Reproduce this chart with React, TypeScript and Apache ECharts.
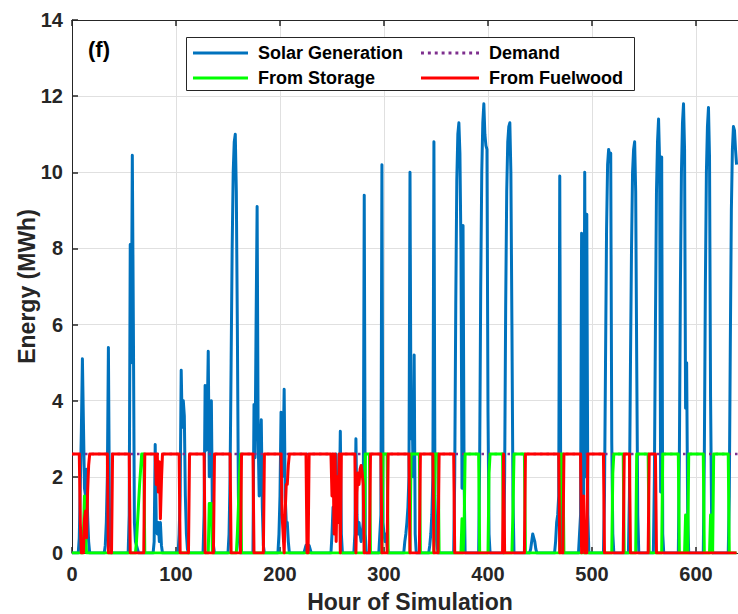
import React, { useEffect, useRef } from 'react';
import * as echarts from 'echarts';

// Demand level (MWh), constant over the run
const D = 2.6;

// Hourly solar generation (MWh), one row per simulated day
const solar: number[] = [
  0,0,0,0,0,0,0,0.4,1.8,3.2,5.1,3.4,1.7,1.5,2.2,1.0,0.3,0,0,0,0,0,0,0,
  0,0,0,0,0,0,0,0,0.2,0.8,2.0,5.4,1.2,0.2,0,0,0,0,0,0,0,0,0,0,
  0,0,0,0,0,0,0,1.0,8.1,5.0,10.45,6.0,0.8,0.3,0.2,0.1,0,0,0,0,0,0,0,0,
  0,0,0,0,0,0,0,0.3,2.85,0.8,0.5,0.8,0.3,0.8,0.2,0,0,0,0,0,0,0,0,0,
  0,0,0,0,0,0,0,0.5,1.5,4.8,3.3,4.0,3.6,1.5,0.5,0.1,0,0,0,0,0,0,0,0,
  0,0,0,0,0,0,0,1.0,4.4,2.7,3.5,5.3,2.0,3.0,4.0,1.0,0.2,0,0,0,0,0,0,0,
  0,0,0,0,0,0,0,0.5,2.0,5.0,8.0,10.0,10.8,11.0,9.5,5.9,1.5,0.3,0,0,0,0,0,0,
  0,0,0,0,0,0,0,3.9,2.5,6.0,9.1,3.0,1.5,2.8,3.5,1.2,0.2,0,0,0,0,0,0,0,
  0,0,0,0,0,0,0,0.5,1.5,3.7,2.0,2.5,4.3,1.5,0.8,0.8,0.3,0,0,0,0,0,0,0,
  0,0,0,0,0,0,0,0,0.1,0.2,0.1,0.1,0.2,0.1,0,0,0,0,0,0,0,0,0,0,
  0,0,0,0,0,0,0,0,0,0,0.5,1.2,0.8,1.5,2.6,1.0,2.0,1.2,3.2,0.5,0,0,0,0,
  0,0,0,0,0,0,0,0,0.5,3.0,1.0,0.5,0.8,0.5,0.3,0.5,0.8,9.4,0.5,0,0,0,0,0,
  0,0,0,0,0,0,0,0,0.5,1.0,10.2,0.8,0.5,0.3,0.5,0.2,0,0,0,0,0,0,0,0,
  0,0,0,0,0,0,0,0,0.3,0.5,0.8,1.2,2.0,10.0,3.0,4.0,2.0,5.2,0.5,0,0,0,0,0,
  0,0,0,0,0,0,0,0,0.2,0.5,1.0,2.0,10.8,1.5,0.5,0.2,0,0,0,0,0,0,0,0,
  0,0,0,0,0,0,0,0,2.0,6.5,9.8,11.0,11.3,10.5,8.0,1.7,8.6,2.0,0,0,0,0,0,0,
  0,0,0,0,0,0,0,0,2.5,7.0,10.0,11.3,11.8,11.0,10.7,10.6,3.7,0.5,0,0,0,0,0,0,
  0,0,0,0,0,0,0,0,2.0,6.5,9.5,10.8,11.2,11.3,10.0,6.0,1.5,0,0,0,0,0,0,0,
  0,0,0,0,0,0,0,0,0,0.1,0.3,0.5,0.4,0.3,0.1,0,0,0,0,0,0,0,0,0,
  0,0,0,0,0,0,0,0,0,0.3,0.8,1.0,1.5,9.9,1.0,0.3,0,0,0,0,0,0,0,0,
  0,0,0,0,0,0,0,0,0.5,1.0,8.4,2.0,1.5,10.0,2.0,8.9,1.0,0,0,0,0,0,0,0,
  0,0,0,0,0,0,0,0,1.5,5.0,8.5,10.2,10.6,10.4,10.5,2.9,0.5,0,0,0,0,0,0,0,
  0,0,0,0,0,0,0,0,1.5,5.0,8.0,10.0,10.6,10.8,9.5,5.0,1.0,0,0,0,0,0,0,0,
  0,0,0,0,0,0,0,0,2.0,6.0,9.5,10.8,11.4,10.3,1.6,10.4,0.5,0,0,0,0,0,0,0,
  0,0,0,0,0,0,0,0,2.5,7.0,10.0,11.3,11.8,10.6,3.8,5.0,1.0,0,0,0,0,0,0,0,
  0,0,0,0,0,0,0,0,2.5,7.0,10.0,11.2,11.7,10.4,4.1,1.0,0,0,0,0,0,0,0,0,
  0,0,0,0,0,0,0,0,1.5,5.5,9.0,10.6,11.2,11.1,10.6,10.2,
];

// Hourly discharge from storage (MWh)
const fromStorage: number[] = [
  0,0,0,0,0,0,0,0,0,0,0,0.5,1.5,0.5,0,0,0,0,0,0,0,0,0,0,
  0,0,0,0,0,0,0,0,0,0,0,0,0,0,0,0,0,0,0,0,0,0,0,0,
  0,0,0,0,0,0,0,0,0,0,0,0,0,0,0.3,0.8,1.3,1.8,2.2,D,D,D,0,0,
  0,0,0,0,0,0,0,0,0,0,0,0,0,0,0,0,0,0,0,0,0,0,0,0,
  0,0,0,0,0,0,0,0,0,0,0,0,0,0,0,0,0,0,0,0,0,0,0,0,
  0,0,0,0,0,0,0,0,0,0,0,0,1.3,1.3,1.3,0,0,0,0,0,0,0,0,0,
  0,0,0,0,0,0,0,0,0,0,0,0,0,0,0,0.5,1.2,2.0,D,0,0,0,0,0,
  0,0,0,0,0,0,0,0,0,0,0,0,0,0,0,0,0,0,0,0,0,0,0,0,
  0,0,0,0,0,0,0,0,0,0,0,0,0,0,0,0,0,0,0,0,0,0,0,0,
  0,0,0,0,0,0,0,0,0,0,0,0,0,0,0,0,0,0,0,0,0,0,0,0,
  0,0,0,0,0,0,0,0,0,0,0,0,0,0,0,0,0,0,0,0,0,0,0,0,
  0,0,0,0,0,0,0,0,0,0,0,0,0,0,0,0,0,0,D,D,D,D,D,0,
  0,0,0,0,0,0,0,0,0,0,0,D,D,D,D,D,0,0,0,0,0,0,0,0,
  0,0,0,0,0,0,0,0,0,0,0,0,0,0,D,D,D,D,D,D,D,D,D,0,
  0,0,0,0,0,0,0,0,0,0,0,0,0,D,D,D,D,0,0,0,0,0,0,0,
  0,0,0,0,0,0,0,0,0,0,0,0,0,0,0,0.9,0,0.6,D,D,D,D,D,D,
  D,D,D,D,D,D,D,D,0,0,0,0,0,0,0,0,0,2.1,D,D,D,D,D,D,
  D,D,D,D,D,D,D,0,0,0,0,0,0,0,0,0,1.1,D,D,D,D,D,D,D,
  D,D,D,D,0,0,0,0,0,0,0,0,0,0,0,0,0,0,0,0,0,0,0,0,
  0,0,0,0,0,0,0,0,0,0,0,0,0,0,D,D,D,0,0,0,0,0,0,0,
  0,0,0,0,0,0,0,0,0,0,0,0,0,0,0,0,0,0,0,0,0,0,0,0,
  0,0,0,0,0,0,0,0,0,0,0,0,0,0,0,0,2.1,D,D,D,D,D,D,D,
  D,D,D,0,0,0,0,0,0,0,0,0,0,0,0,D,D,D,D,D,D,D,D,D,
  D,D,D,0,0,0,0,0,0,0,0,0,0,0,0,0,D,D,D,D,D,D,D,D,
  D,D,D,D,D,D,D,D,0,0,0,0,0,0,1.0,0,0,D,D,D,D,D,D,D,
  D,D,D,D,D,D,D,D,0,0,0,0,0,0,1.0,0.5,0,D,D,D,D,D,D,D,
  D,D,D,D,D,D,D,D,0,0,0,0,0,0,0,0,
];

// Hourly supply from fuelwood (MWh)
const fromFuelwood: number[] = [
  D,D,D,D,D,D,D,D,0.8,0,0,0,0.9,1.1,0.4,1.6,2.3,D,D,D,D,D,D,D,
  D,D,D,D,D,D,D,D,D,D,D,0,0,0,0,D,D,D,D,D,D,D,D,D,
  D,D,D,D,D,D,D,D,0,0,0,0,0,0,0,0,0,0,0,0,0,0,D,D,
  D,D,D,D,D,D,D,D,D,1.8,D,1.6,2.4,0.9,1.9,D,D,D,D,D,D,D,D,D,
  D,D,D,D,D,D,D,D,0,0,0,0,0,0,0,0,0,D,D,D,D,D,D,D,
  D,D,D,D,D,D,D,D,0,0,0,0,0,0,0,0,0,D,D,D,D,D,D,D,
  D,D,D,D,D,D,D,D,D,0,0,0,0,0,0,0,0,0,0,D,D,D,D,D,
  D,D,D,D,D,D,D,0,0,0,0,0,0,0,0,0,0,D,D,D,D,D,D,D,
  D,D,D,D,D,D,D,D,D,D,1.0,0.5,0,1.1,1.8,1.8,2.3,D,D,D,D,D,D,D,
  D,D,D,D,D,D,D,D,D,D,0,0,D,D,D,D,D,D,D,D,D,D,D,D,
  D,D,D,D,D,D,D,D,D,D,1.5,D,0.5,D,0.3,2.0,0.8,D,0,D,D,D,D,D,
  D,D,D,D,D,D,D,D,D,0,1.6,2.1,1.8,2.2,2.3,2.1,1.8,0,0,0,0,0,0,D,
  D,D,D,D,D,D,D,D,D,D,0,0,0,0,0,0,D,D,D,D,D,D,D,D,
  D,D,D,D,D,D,D,D,D,D,D,D,D,0,0,0,0,0,0,0,0,0,0,D,
  D,D,D,D,D,D,D,D,D,D,D,D,0,0,0,0,0,D,D,D,D,D,D,D,
  D,D,D,D,D,D,D,D,0,0,0,0,0,0,0,0,0,0,0,0,0,0,0,0,
  0,0,0,0,0,0,0,0,0,0,0,0,0,0,0,0,0,0,0,0,0,0,0,0,
  0,0,0,0,0,0,0,D,0,0,0,0,0,0,0,0,0,0,0,0,0,0,0,0,
  0,0,0,0,D,D,D,D,D,D,D,D,D,D,D,D,D,D,D,D,D,D,D,D,
  D,D,D,D,D,D,D,D,D,D,D,D,D,0,0,0,0,D,D,D,D,D,D,D,
  D,D,D,D,D,D,D,D,D,D,0,1.0,1.5,0,0.8,0,D,D,D,D,D,D,D,D,
  D,D,D,D,D,D,D,D,0,0,0,0,0,0,0,0,0,0,0,0,0,0,0,0,
  0,0,0,D,D,D,D,D,D,0,0,0,0,0,0,0,0,0,0,0,0,0,0,0,
  0,0,0,D,D,D,D,D,D,D,0,0,0,0,0,0,0,0,0,0,0,0,0,0,
  0,0,0,0,0,0,0,0,0,0,0,0,0,0,0,0,0,0,0,0,0,0,0,0,
  0,0,0,0,0,0,0,0,0,0,0,0,0,0,0,0,0,0,0,0,0,0,0,0,
  0,0,0,0,0,0,0,0,0,0,0,0,0,0,0,0,
];

// Demand line end points (hour, MWh)
const demandHours = [0, 650];
const demandValues = [D, D];

const AXIS_COLOR = '#262626';
const FONT = '"Liberation Sans", Arial, Helvetica, sans-serif';

// Legend glyphs: a solid stroke and a row of square dots
const SOLID_ICON = 'path://M0,0L55,0L55,3L0,3Z';
const DOTTED_ICON =
  'path://' +
  [0, 7, 14, 21, 28, 35, 42, 49, 56]
    .map((x) => `M${x},0h3v3h-3Z`)
    .join(' ');

const toPairs = (vals: number[]) => vals.map((v, i) => [i, v]);

export default function App() {
  const ref = useRef<HTMLDivElement>(null);

  useEffect(() => {
    if (!ref.current) return;
    const chart = echarts.init(ref.current, undefined, { renderer: 'svg' });

    const legendBase = {
      orient: 'horizontal' as const,
      padding: 0,
      itemHeight: 14,
      selectedMode: false,
      symbolKeepAspect: true,
      textStyle: {
        fontFamily: FONT,
        fontSize: 18,
        fontWeight: 'bold' as const,
        color: '#000',
        padding: [0, 0, 0, 5],
      },
    };

    chart.setOption({
      animation: false,
      backgroundColor: '#fff',
      // the plot box runs on past the right edge of the canvas
      grid: { left: 72, right: -10, top: 20, bottom: 61, outerBoundsMode: 'none' },
      xAxis: [
        {
          type: 'value',
          min: 0,
          max: 650,
          interval: 100,
          name: 'Hour of Simulation',
          nameLocation: 'middle',
          nameGap: 37,
          nameMoveOverlap: false,
          nameTextStyle: { fontFamily: FONT, fontSize: 23, fontWeight: 'bold', color: AXIS_COLOR },
          axisLine: { show: true, onZero: false, lineStyle: { color: AXIS_COLOR, width: 1 } },
          axisTick: { show: true, inside: true, length: 6, lineStyle: { color: AXIS_COLOR, width: 1.5 } },
          axisLabel: {
            fontFamily: FONT, fontSize: 20, fontWeight: 'bold', color: AXIS_COLOR,
            margin: 11, showMaxLabel: false,
          },
          splitLine: { show: true, lineStyle: { color: '#e0e0e0', width: 1 } },
        },
        {
          type: 'value',
          position: 'top',
          min: 0,
          max: 650,
          interval: 100,
          axisLine: { show: true, onZero: false, lineStyle: { color: AXIS_COLOR, width: 1 } },
          axisTick: { show: true, inside: true, length: 6, lineStyle: { color: AXIS_COLOR, width: 1.5 } },
          axisLabel: { show: false },
          splitLine: { show: false },
        },
      ],
      yAxis: {
        type: 'value',
        min: 0,
        max: 14,
        interval: 2,
        name: 'Energy (MWh)',
        nameLocation: 'middle',
        nameGap: 34,
        nameMoveOverlap: false,
        nameTextStyle: { fontFamily: FONT, fontSize: 23, fontWeight: 'bold', color: AXIS_COLOR },
        axisLine: { show: true, lineStyle: { color: AXIS_COLOR, width: 1 } },
        axisTick: { show: true, inside: true, length: 6, lineStyle: { color: AXIS_COLOR, width: 1.5 } },
        axisLabel: { fontFamily: FONT, fontSize: 20, fontWeight: 'bold', color: AXIS_COLOR, margin: 9 },
        splitLine: { show: true, lineStyle: { color: '#e0e0e0', width: 1 } },
      },
      legend: [
        { ...legendBase, data: ['Solar Generation'], icon: SOLID_ICON, itemWidth: 55, left: 193, top: 44 },
        { ...legendBase, data: ['Demand'], icon: DOTTED_ICON, itemWidth: 58, left: 421, top: 44 },
        { ...legendBase, data: ['From Storage'], icon: SOLID_ICON, itemWidth: 55, left: 193, top: 69 },
        { ...legendBase, data: ['From Fuelwood'], icon: SOLID_ICON, itemWidth: 58, left: 421, top: 69 },
      ],
      graphic: [
        {
          type: 'rect',
          z: 3,
          shape: { x: 186.5, y: 37.5, width: 448, height: 53 },
          style: { fill: '#fff', stroke: AXIS_COLOR, lineWidth: 1 },
        },
        {
          type: 'text',
          z: 5,
          left: 88,
          top: 38,
          style: { text: '(f)', font: `bold 22px ${FONT}`, fill: '#000' },
        },
      ],
      series: [
        {
          name: 'Solar Generation',
          type: 'line',
          data: toPairs(solar),
          symbol: 'none',
          z: 2,
          itemStyle: { color: '#0072BD' },
          lineStyle: { color: '#0072BD', width: 3, join: 'round' },
        },
        {
          name: 'Demand',
          type: 'line',
          data: demandHours.map((h, i) => [h, demandValues[i]]),
          symbol: 'none',
          z: 2,
          itemStyle: { color: '#7E2F8E' },
          lineStyle: { color: '#7E2F8E', width: 2.5, type: [2.5, 4] },
        },
        {
          name: 'From Storage',
          type: 'line',
          data: toPairs(fromStorage),
          symbol: 'none',
          z: 2,
          itemStyle: { color: '#00FF00' },
          lineStyle: { color: '#00FF00', width: 3, join: 'round' },
        },
        {
          name: 'From Fuelwood',
          type: 'line',
          data: toPairs(fromFuelwood),
          symbol: 'none',
          z: 2,
          itemStyle: { color: '#FF0000' },
          lineStyle: { color: '#FF0000', width: 3, join: 'round' },
        },
      ],
    });

    return () => chart.dispose();
  }, []);

  return (
    <div
      ref={ref}
      style={{ position: 'fixed', left: 0, top: 0, width: 738, height: 614, background: '#fff', overflow: 'hidden' }}
    />
  );
}
